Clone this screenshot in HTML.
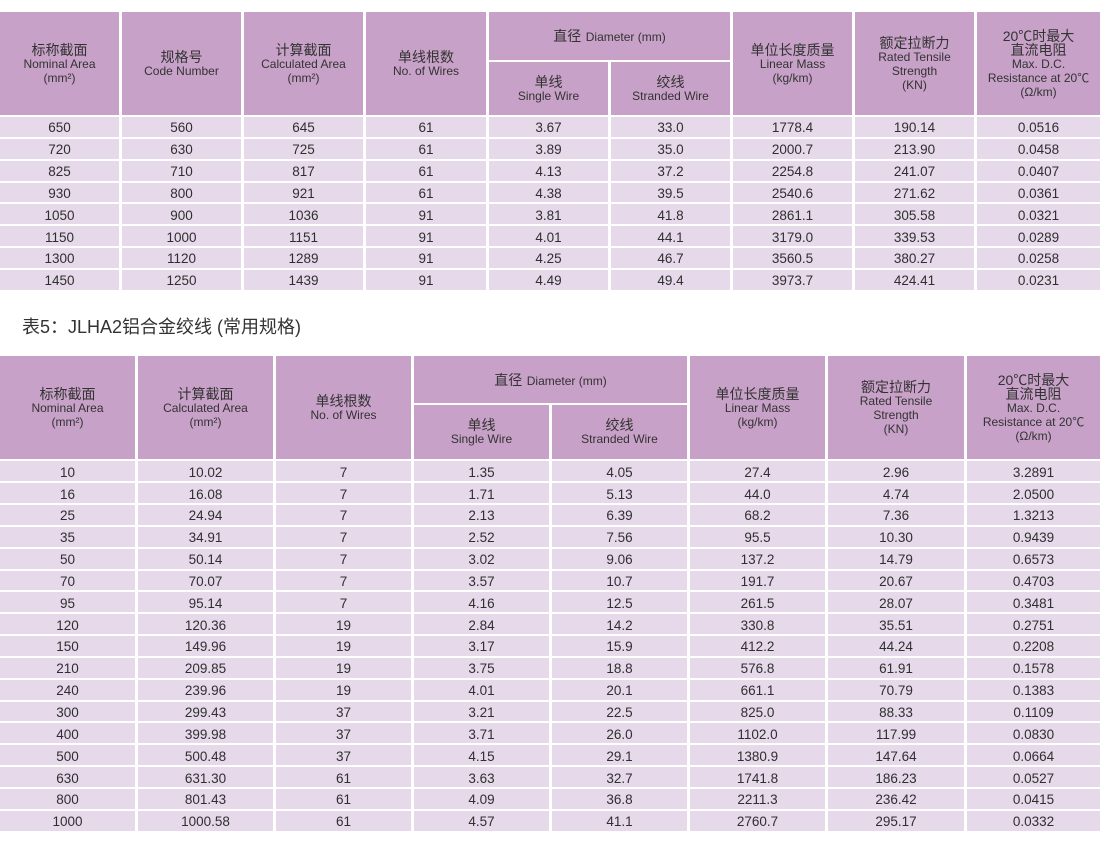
<!DOCTYPE html>
<html>
<head>
<meta charset="utf-8">
<style>
html,body{margin:0;padding:0}
body{width:1100px;height:846px;overflow:hidden;background:#fff;position:relative;font-family:"Liberation Sans","Noto Sans CJK SC",sans-serif;color:#333}
table{position:absolute;left:-3px;border-collapse:separate;border-spacing:3px 2px;table-layout:fixed;width:1106px}
th{background:#c7a1c7;font-weight:normal;vertical-align:middle;text-align:center;padding:0;color:#333}
td{background:#e6d9ea;text-align:center;vertical-align:middle;padding:2px 0 0 0;font-size:13.5px;line-height:15px;color:#2f2f2f}
tbody tr{height:19.85px}
.c{font-size:14px;display:block;line-height:14px;font-family:"Liberation Sans","Noto Sans CJK SC",sans-serif}
.e{font-size:12px;display:block;line-height:14px}
.cap{position:absolute;left:22px;top:317px;font-size:18px;line-height:20px;color:#333;white-space:nowrap;font-family:"Liberation Sans","Noto Sans CJK SC",sans-serif}
.d1{font-size:14px}
.d2{font-size:12px}
</style>
</head>
<body>

<table style="top:10px">
<colgroup>
<col style="width:119px"><col style="width:119px"><col style="width:119px"><col style="width:120px"><col style="width:119px"><col style="width:119px"><col style="width:119px"><col style="width:119px"><col style="width:123px">
</colgroup>
<thead>
<tr style="height:48px">
<th rowspan="2"><span class="c">标称截面</span><span class="e">Nominal Area</span><span class="e">(mm²)</span></th>
<th rowspan="2"><span class="c">规格号</span><span class="e">Code Number</span></th>
<th rowspan="2"><span class="c">计算截面</span><span class="e">Calculated Area</span><span class="e">(mm²)</span></th>
<th rowspan="2"><span class="c">单线根数</span><span class="e">No. of Wires</span></th>
<th colspan="2"><span class="d1">直径</span> <span class="d2">Diameter (mm)</span></th>
<th rowspan="2"><span class="c">单位长度质量</span><span class="e">Linear Mass</span><span class="e">(kg/km)</span></th>
<th rowspan="2"><span class="c">额定拉断力</span><span class="e">Rated Tensile</span><span class="e">Strength</span><span class="e">(KN)</span></th>
<th rowspan="2"><span class="c">20℃时最大</span><span class="c">直流电阻</span><span class="e">Max. D.C.</span><span class="e">Resistance at 20℃</span><span class="e">(Ω/km)</span></th>
</tr>
<tr style="height:53px">
<th><span class="c">单线</span><span class="e">Single Wire</span></th>
<th><span class="c">绞线</span><span class="e">Stranded Wire</span></th>
</tr>
</thead>
<tbody>
<tr><td>650</td><td>560</td><td>645</td><td>61</td><td>3.67</td><td>33.0</td><td>1778.4</td><td>190.14</td><td>0.0516</td></tr>
<tr><td>720</td><td>630</td><td>725</td><td>61</td><td>3.89</td><td>35.0</td><td>2000.7</td><td>213.90</td><td>0.0458</td></tr>
<tr><td>825</td><td>710</td><td>817</td><td>61</td><td>4.13</td><td>37.2</td><td>2254.8</td><td>241.07</td><td>0.0407</td></tr>
<tr><td>930</td><td>800</td><td>921</td><td>61</td><td>4.38</td><td>39.5</td><td>2540.6</td><td>271.62</td><td>0.0361</td></tr>
<tr><td>1050</td><td>900</td><td>1036</td><td>91</td><td>3.81</td><td>41.8</td><td>2861.1</td><td>305.58</td><td>0.0321</td></tr>
<tr><td>1150</td><td>1000</td><td>1151</td><td>91</td><td>4.01</td><td>44.1</td><td>3179.0</td><td>339.53</td><td>0.0289</td></tr>
<tr><td>1300</td><td>1120</td><td>1289</td><td>91</td><td>4.25</td><td>46.7</td><td>3560.5</td><td>380.27</td><td>0.0258</td></tr>
<tr><td>1450</td><td>1250</td><td>1439</td><td>91</td><td>4.49</td><td>49.4</td><td>3973.7</td><td>424.41</td><td>0.0231</td></tr>
</tbody>
</table>

<div class="cap">表5：JLHA2铝合金绞线 (常用规格)</div>

<table style="top:354px">
<colgroup>
<col style="width:135px"><col style="width:135px"><col style="width:135px"><col style="width:135px"><col style="width:135px"><col style="width:135px"><col style="width:136px"><col style="width:133px">
</colgroup>
<thead>
<tr style="height:47.3px">
<th rowspan="2"><span class="c">标称截面</span><span class="e">Nominal Area</span><span class="e">(mm²)</span></th>
<th rowspan="2"><span class="c">计算截面</span><span class="e">Calculated Area</span><span class="e">(mm²)</span></th>
<th rowspan="2"><span class="c">单线根数</span><span class="e">No. of Wires</span></th>
<th colspan="2"><span class="d1">直径</span> <span class="d2">Diameter (mm)</span></th>
<th rowspan="2"><span class="c">单位长度质量</span><span class="e">Linear Mass</span><span class="e">(kg/km)</span></th>
<th rowspan="2"><span class="c">额定拉断力</span><span class="e">Rated Tensile</span><span class="e">Strength</span><span class="e">(KN)</span></th>
<th rowspan="2"><span class="c">20℃时最大</span><span class="c">直流电阻</span><span class="e">Max. D.C.</span><span class="e">Resistance at 20℃</span><span class="e">(Ω/km)</span></th>
</tr>
<tr style="height:54px">
<th><span class="c">单线</span><span class="e">Single Wire</span></th>
<th><span class="c">绞线</span><span class="e">Stranded Wire</span></th>
</tr>
</thead>
<tbody>
<tr><td>10</td><td>10.02</td><td>7</td><td>1.35</td><td>4.05</td><td>27.4</td><td>2.96</td><td>3.2891</td></tr>
<tr><td>16</td><td>16.08</td><td>7</td><td>1.71</td><td>5.13</td><td>44.0</td><td>4.74</td><td>2.0500</td></tr>
<tr><td>25</td><td>24.94</td><td>7</td><td>2.13</td><td>6.39</td><td>68.2</td><td>7.36</td><td>1.3213</td></tr>
<tr><td>35</td><td>34.91</td><td>7</td><td>2.52</td><td>7.56</td><td>95.5</td><td>10.30</td><td>0.9439</td></tr>
<tr><td>50</td><td>50.14</td><td>7</td><td>3.02</td><td>9.06</td><td>137.2</td><td>14.79</td><td>0.6573</td></tr>
<tr><td>70</td><td>70.07</td><td>7</td><td>3.57</td><td>10.7</td><td>191.7</td><td>20.67</td><td>0.4703</td></tr>
<tr><td>95</td><td>95.14</td><td>7</td><td>4.16</td><td>12.5</td><td>261.5</td><td>28.07</td><td>0.3481</td></tr>
<tr><td>120</td><td>120.36</td><td>19</td><td>2.84</td><td>14.2</td><td>330.8</td><td>35.51</td><td>0.2751</td></tr>
<tr><td>150</td><td>149.96</td><td>19</td><td>3.17</td><td>15.9</td><td>412.2</td><td>44.24</td><td>0.2208</td></tr>
<tr><td>210</td><td>209.85</td><td>19</td><td>3.75</td><td>18.8</td><td>576.8</td><td>61.91</td><td>0.1578</td></tr>
<tr><td>240</td><td>239.96</td><td>19</td><td>4.01</td><td>20.1</td><td>661.1</td><td>70.79</td><td>0.1383</td></tr>
<tr><td>300</td><td>299.43</td><td>37</td><td>3.21</td><td>22.5</td><td>825.0</td><td>88.33</td><td>0.1109</td></tr>
<tr><td>400</td><td>399.98</td><td>37</td><td>3.71</td><td>26.0</td><td>1102.0</td><td>117.99</td><td>0.0830</td></tr>
<tr><td>500</td><td>500.48</td><td>37</td><td>4.15</td><td>29.1</td><td>1380.9</td><td>147.64</td><td>0.0664</td></tr>
<tr><td>630</td><td>631.30</td><td>61</td><td>3.63</td><td>32.7</td><td>1741.8</td><td>186.23</td><td>0.0527</td></tr>
<tr><td>800</td><td>801.43</td><td>61</td><td>4.09</td><td>36.8</td><td>2211.3</td><td>236.42</td><td>0.0415</td></tr>
<tr><td>1000</td><td>1000.58</td><td>61</td><td>4.57</td><td>41.1</td><td>2760.7</td><td>295.17</td><td>0.0332</td></tr>
</tbody>
</table>

</body>
</html>
